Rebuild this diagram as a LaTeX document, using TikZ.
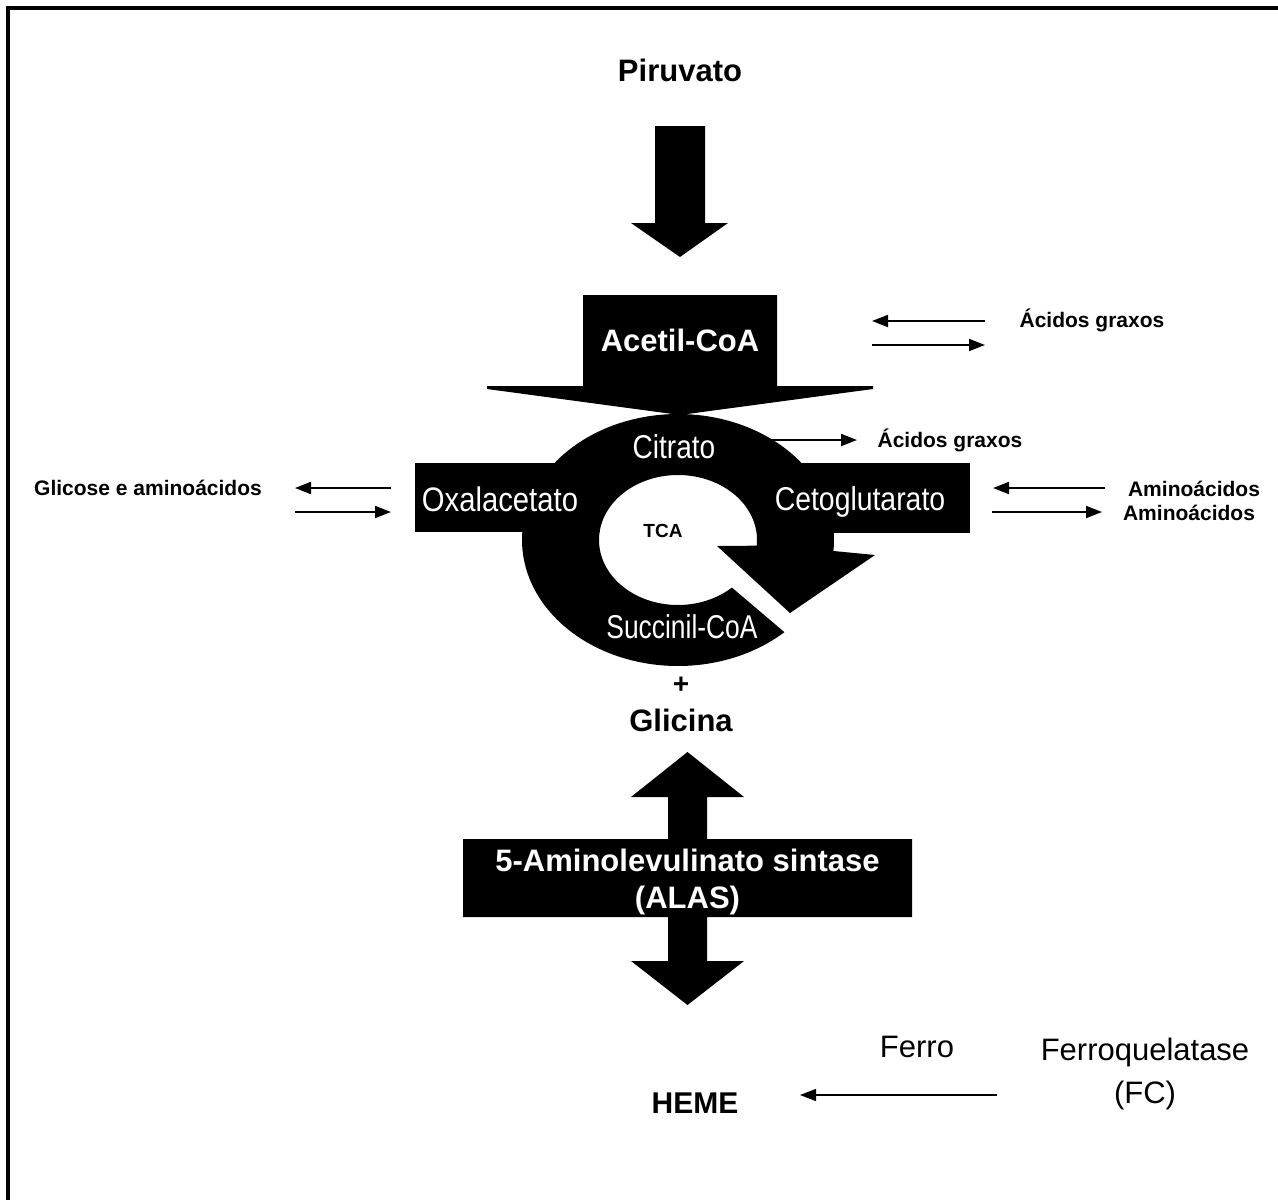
\documentclass[tikz,border=0pt]{standalone}
\usepackage{fontspec}
\setmainfont{Liberation Sans}
\usepackage{graphicx}
\usetikzlibrary{arrows.meta}
\newcommand{\cond}[2][0.85]{\scalebox{#1}[1]{#2}}
\begin{document}
\begin{tikzpicture}[x=1pt,y=-1pt,
  lbl/.style={inner sep=0pt, font=\bfseries\fontsize{21}{25}\selectfont},
  big/.style={inner sep=0pt, font=\bfseries\fontsize{31}{37}\selectfont},
  ringtxt/.style={inner sep=0pt, text=white, font=\fontsize{33}{38}\selectfont},
  plain/.style={inner sep=0pt, font=\fontsize{31}{43}\selectfont},
  thinarr/.style={line width=1.8pt, -{Triangle[length=16pt,width=12pt]}},
  fearr/.style={line width=1.3pt, -{Triangle[length=16pt,width=12pt]}},
  blk/.style={fill=black, draw=none}]
\useasboundingbox (0,0) rectangle (1278,1200);
\fill[white] (0,0) rectangle (1278,1200);
% frame (top and left only visible)
\draw[line width=4pt] (1280,8) -- (8,8) -- (8,1202);

% Piruvato and arrow
\node[big] (piru) at (680,70) {Piruvato};
\fill[blk] (655,126) -- (705,126) -- (705,223) -- (728,223) -- (680,257) -- (631,223) -- (655,223) -- cycle;

% Acetil-CoA
\fill[blk] (583,295) -- (777,295) -- (777,386) -- (873,386) -- (873,389) -- (680,415)
  -- (487,389) -- (487,386) -- (583,386) -- cycle;
\node[big, text=white] (acetil) at (680,340) {Acetil-CoA};

% side boxes
\fill[blk] (415,463) rectangle (600,532);
\fill[blk] (770,463) rectangle (970,533);

% TCA circular arrow
\fill[blk] plot[domain=-5:313,samples=160] ({678+156*cos(\x)},{540-126*sin(\x)})
  -- plot[domain=313:-5,samples=160] ({678+79*cos(\x)},{540-65*sin(\x)})
  -- (717,546) -- (790,613) -- (875,555) -- cycle;

\node[ringtxt] (oxa) at (500,499) {\cond[0.86]{\fontsize{34}{38}\selectfont Oxalacetato}};
\node[ringtxt] (ceto) at (860,502) {\cond[0.86]{Cetoglutarato}};
\node[ringtxt] (cit) at (674,447) {\cond[0.85]{Citrato}};
\node[ringtxt] (succ) at (682,627) {\cond[0.8]{Succinil-CoA}};
\node[inner sep=0pt, font=\bfseries\fontsize{19}{22}\selectfont] (tca) at (663,531) {TCA};

% + Glicina
\node[inner sep=0pt, font=\bfseries\fontsize{28}{30}\selectfont] (plus) at (681,685) {+};
\node[big] (gli) at (681,720) {Glicina};

% ALAS double arrow
\fill[blk] (687.5,752) -- (744,797) -- (707,797) -- (707,839) -- (912,839) -- (912,917)
  -- (707,917) -- (707,961) -- (744,961) -- (687.5,1005) -- (631,961) -- (668,961)
  -- (668,917) -- (463,917) -- (463,839) -- (668,839) -- (668,797) -- (631,797) -- cycle;
\node[big, text=white, align=center] (alas) at (687.5,882) {5-Aminolevulinato sintase\\(ALAS)};

% HEME, Ferro, Ferroquelatase
\node[inner sep=0pt, font=\bfseries\fontsize{30}{34}\selectfont] (heme) at (695,1103) {HEME};
\node[plain] (ferro) at (917,1047) {Ferro};
\node[plain, align=center] (fc) at (1145,1074) {Ferroquelatase\\(FC)};
\coordinate (fe1) at (997,1095);
\coordinate (fe2) at (800,1095);
\draw[fearr] (fe1) -- (fe2);

% Acidos graxos (top)
\node[lbl] (ag1) at (1092,320) {Ácidos graxos};
\coordinate (a1s) at (985,321); \coordinate (a1e) at (872,321);
\coordinate (a2s) at (872,345); \coordinate (a2e) at (985,345);
\draw[thinarr] (a1s) -- (a1e);
\draw[thinarr] (a2s) -- (a2e);

% Acidos graxos (from citrate)
\node[lbl] (ag2) at (950,440) {Ácidos graxos};
\coordinate (c1s) at (766,440); \coordinate (c1e) at (857,440);
\draw[thinarr] (c1s) -- (c1e);

% Aminoacidos
\node[lbl] (am1) at (1194,489) {Aminoácidos};
\node[lbl] (am2) at (1189,513) {Aminoácidos};
\coordinate (m1s) at (1105,488); \coordinate (m1e) at (993,488);
\coordinate (m2s) at (992,512); \coordinate (m2e) at (1102,512);
\draw[thinarr] (m1s) -- (m1e);
\draw[thinarr] (m2s) -- (m2e);

% Glicose e aminoacidos
\node[lbl] (glic) at (148,488) {Glicose e aminoácidos};
\coordinate (g1s) at (391,488); \coordinate (g1e) at (295,488);
\coordinate (g2s) at (295,512); \coordinate (g2e) at (391,512);
\draw[thinarr] (g1s) -- (g1e);
\draw[thinarr] (g2s) -- (g2e);
\end{tikzpicture}
\end{document}
